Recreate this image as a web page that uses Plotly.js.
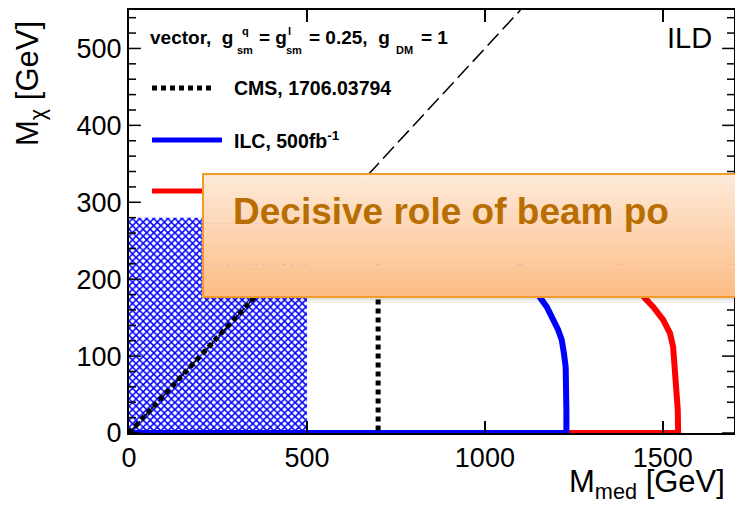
<!DOCTYPE html>
<html>
<head>
<meta charset="utf-8">
<script src="https://cdn.plot.ly/plotly-3.0.1.min.js"></script>
<style>html,body{margin:0;padding:0;background:#fff;}#chart{width:735px;height:519px;}</style>
</head>
<body>
<div id="chart"></div>
<script>
// ---- data ----
const xTickVals = [0, 500, 1000, 1500];
const xTickText = ['0', '500', '1000', '1500'];
const yTickVals = [0, 100, 200, 300, 400, 500];
const yTickText = ['0', '100', '200', '300', '400', '500'];
const yMinorVals = [20, 40, 60, 80, 120, 140, 160, 180, 220, 240, 260, 280, 320, 340, 360, 380,
                    420, 440, 460, 480, 520, 540];
const xRange = [0, 1700];
const yRange = [0, 550];

// blue hatched region
const hatchX = [0, 500, 500, 0, 0];
const hatchY = [0, 0, 280, 280, 0];

// kinematic line M_med = 2 M_chi
const kinX = [0, 1100];
const kinY = [0, 550];

// CMS 1706.03794 contour (dotted)
const cmsX = [0, 200, 352, 450, 600, 680, 700, 700];
const cmsY = [0, 100, 176, 225, 290, 320, 280, 0];

// ILC 500 fb-1 (blue)
const ilcX = [0, 1229, 1229, 1228, 1227, 1222, 1216, 1206, 1192, 1174, 1155, 1120, 1060, 980, 880];
const ilcY = [0, 0, 30, 56, 86, 104, 121, 134, 147, 164, 176, 205, 245, 285, 315];

// ILC polarised (red)
const polX = [0, 1543, 1542, 1539, 1534, 1529, 1520, 1501, 1473, 1450, 1400, 1320, 1200, 1060];
const polY = [0, 0, 30, 56, 91, 112, 130, 147, 164, 175, 210, 255, 295, 322];

const FONT = 'Liberation Sans, Arial, Helvetica, sans-serif';

// inner y ticks drawn as clipped line markers on both frame edges (half of each marker is clipped away)
function yTickTrace(vals, size) {
  const xs = [], ys = [];
  vals.forEach(v => { xs.push(xRange[0], xRange[1]); ys.push(v, v); });
  return {x: xs, y: ys, type: 'scatter', mode: 'markers', cliponaxis: true, hoverinfo: 'skip', showlegend: false,
    marker: {symbol: 'line-ew', size: size, color: '#000', line: {width: 1.5, color: '#000'}}};
}

const traces = [
  {x: hatchX, y: hatchY, type: 'scatter', mode: 'lines', fill: 'toself',
   line: {width: 0, color: 'rgba(0,0,255,0)'}, fillcolor: 'rgba(255,255,255,0)',
   fillpattern: {shape: 'x', fgcolor: '#0000ff', bgcolor: 'rgba(255,255,255,0)', size: 5, solidity: 0.5},
   hoverinfo: 'skip', showlegend: false},
  {x: kinX, y: kinY, type: 'scatter', mode: 'lines',
   line: {color: '#000', width: 1.5, dash: '16px,6px'}, showlegend: false},
  {x: polX, y: polY, type: 'scatter', mode: 'lines',
   line: {color: '#ff0000', width: 6}, showlegend: false},
  {x: ilcX, y: ilcY, type: 'scatter', mode: 'lines',
   line: {color: '#0000ff', width: 6}, showlegend: false},
  {x: cmsX, y: cmsY, type: 'scatter', mode: 'lines',
   line: {color: '#000', width: 5, dash: '5px,4px'}, showlegend: false},
  yTickTrace(yTickVals, 17),
  yTickTrace(yMinorVals, 10)
];

// geometry helpers for overlay (paper coords)
const L = 129, R = 1, T = 10, B = 86, W = 735, H = 519;
const pw = W - L - R, ph = H - T - B;
const px = v => (v - L) / pw;
const py = v => (H - B - v) / ph;

const shapes = [];
// legend sample lines
shapes.push({type: 'line', xref: 'paper', yref: 'paper', x0: px(152), x1: px(214), y0: py(88), y1: py(88),
  line: {color: '#000', width: 5, dash: '5px,4px'}});
shapes.push({type: 'line', xref: 'paper', yref: 'paper', x0: px(152), x1: px(222), y0: py(140), y1: py(140),
  line: {color: '#0000ff', width: 5}});
shapes.push({type: 'line', xref: 'paper', yref: 'paper', x0: px(152), x1: px(222), y0: py(191), y1: py(191),
  line: {color: '#ff0000', width: 5}});

// callout box with vertical gradient
const boxL = 203, boxR = 740, boxT = 174, boxB = 297;
const c0 = [254, 234, 218], c1 = [252, 188, 132];
const N = 30;
shapes.push({type: 'rect', xref: 'paper', yref: 'paper', layer: 'above', x0: px(boxL + 2), x1: px(boxR), y0: py(boxB + 6), y1: py(boxB),
  line: {width: 0}, fillcolor: 'rgba(0,0,0,0.05)'});
shapes.push({type: 'rect', xref: 'paper', yref: 'paper', layer: 'above', x0: px(boxL + 1), x1: px(boxR), y0: py(boxB + 3), y1: py(boxB),
  line: {width: 0}, fillcolor: 'rgba(0,0,0,0.07)'});
for (let i = 0; i < N; i++) {
  const t = (i + 0.5) / N;
  const c = c0.map((v, k) => Math.round(v + (c1[k] - v) * t));
  const yA = boxT + (boxB - boxT) * i / N;
  const yB = boxT + (boxB - boxT) * (i + 1) / N + 0.6;
  shapes.push({type: 'rect', xref: 'paper', yref: 'paper', layer: 'above',
    x0: px(boxL), x1: px(boxR), y0: py(yB), y1: py(yA),
    line: {width: 0}, fillcolor: 'rgb(' + c.join(',') + ')'});
}
shapes.push({type: 'rect', xref: 'paper', yref: 'paper', layer: 'above',
  x0: px(boxL), x1: px(boxR), y0: py(boxB), y1: py(boxT),
  line: {width: 2, color: '#f39a2b'}, fillcolor: 'rgba(0,0,0,0)'});

function ann(text, x, y, size, opts) {
  return Object.assign({xref: 'paper', yref: 'paper', x: px(x), y: py(y), xanchor: 'left', yanchor: 'middle',
    showarrow: false, text: text, font: {family: FONT, size: size, color: '#000'}}, opts || {});
}

const annotations = [
  ann('<b>vector,  g</b>', 148, 38, 19),
  ann('<b>q</b>', 245, 31, 11, {xanchor: 'center'}),
  ann('<b>sm</b>', 245, 50, 11, {xanchor: 'center'}),
  ann('<b>= g</b>', 257, 38, 19),
  ann('<b>l</b>', 289, 31, 11, {xanchor: 'center'}),
  ann('<b>sm</b>', 294, 50, 11, {xanchor: 'center'}),
  ann('<b>= 0.25,  g</b>', 307, 38, 19),
  ann('<b>DM</b>', 404, 50, 11, {xanchor: 'center'}),
  ann('<b>= 1</b>', 419, 38, 19),
  ann('<b>CMS, 1706.03794</b>', 232, 88, 19.5),
  ann('<b>ILC, 500fb<sup>-1</sup></b>', 232, 140, 19.5),
  ann('ILD', 665, 38, 29),
  ann('M<sub>χ</sub> [GeV]', 30, 84, 31, {xanchor: 'center', textangle: -90}),
  ann('M<sub>med</sub> [GeV]', 647, 484, 31, {xanchor: 'center'}),
  ann('<b>Decisive role of beam po</b>', 231, 211, 37, {font: {family: FONT, size: 37, color: '#b86e00'}})
];

const layout = {
  width: W, height: H,
  margin: {l: L, r: R, t: T, b: B},
  paper_bgcolor: '#fff', plot_bgcolor: '#fff',
  showlegend: false,
  font: {family: FONT, color: '#000'},
  xaxis: {range: xRange, tickmode: 'array', tickvals: xTickVals, ticktext: xTickText,
    ticks: 'inside', ticklen: 12, tickwidth: 1.5, tickcolor: '#000000', mirror: 'allticks',
    showline: true, linewidth: 2, linecolor: '#000', showgrid: false, zeroline: false,
    tickfont: {family: FONT, size: 27, color: '#000'}},
  yaxis: {range: yRange, tickmode: 'array', tickvals: yTickVals, ticktext: yTickText,
    ticks: '', mirror: true,
    showline: true, linewidth: 2, linecolor: '#000', showgrid: false, zeroline: false,
    tickfont: {family: FONT, size: 27, color: '#000'}},
  shapes: shapes,
  annotations: annotations
};

Plotly.newPlot('chart', traces, layout, {displayModeBar: false, staticPlot: true});
</script>
</body>
</html>
